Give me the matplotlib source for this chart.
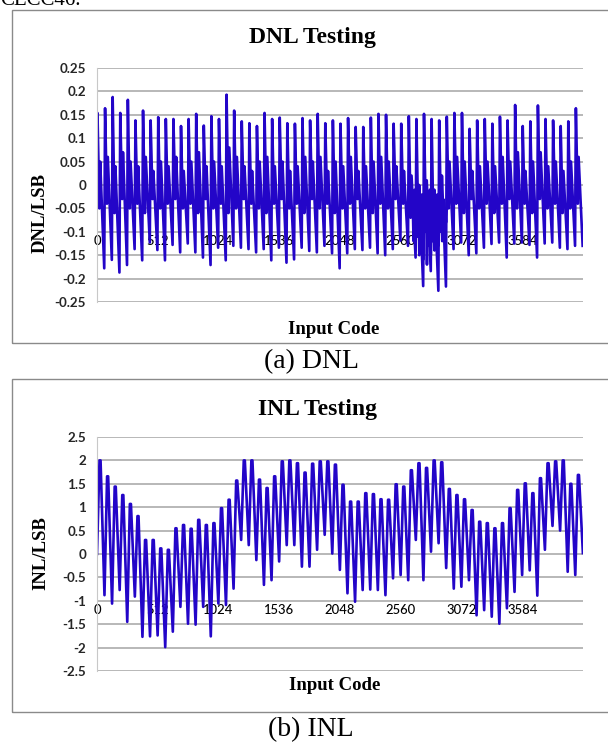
import numpy as np
import matplotlib
matplotlib.use('Agg')
import matplotlib.pyplot as plt
from matplotlib.patches import Rectangle

# DNL: per 64-code cycle, peak after the jump, two mid-ramp values, trough at cycle end
dnl_peak = [0.154, 0.164, 0.188, 0.154, 0.182, 0.138, 0.159, 0.138,
            0.145, 0.141, 0.141, 0.126, 0.141, 0.152, 0.127, 0.147,
            0.141, 0.193, 0.159, 0.136, 0.132, 0.126, 0.154, 0.141,
            0.144, 0.132, 0.131, 0.143, 0.138, 0.152, 0.132, 0.138,
            0.131, 0.143, 0.124, 0.124, 0.144, 0.152, 0.150, 0.131,
            0.131, 0.147, 0.141, 0.152, 0.141, 0.138, 0.146, 0.154,
            0.154, 0.120, 0.138, 0.141, 0.131, 0.146, 0.138, 0.171,
            0.126, 0.136, 0.170, 0.141, 0.138, 0.126, 0.136, 0.164]
dnl_mid_lo = [-0.05, -0.04, -0.06, -0.03, -0.05, -0.04, -0.06, -0.03,
              -0.05, -0.04, -0.03, -0.05, -0.04, -0.06, -0.03, -0.05,
              -0.04, -0.06, -0.05, -0.03, -0.04, -0.05, -0.06, -0.04,
              -0.03, -0.05, -0.04, -0.06, -0.03, -0.05, -0.04, -0.06,
              -0.05, -0.04, -0.03, -0.05, -0.06, -0.04, -0.05, -0.03,
              -0.04, -0.07, -0.09, -0.08, -0.10, -0.08, -0.05, -0.04,
              -0.06, -0.03, -0.05, -0.04, -0.06, -0.04, -0.03, -0.05,
              -0.04, -0.06, -0.03, -0.05, -0.04, -0.06, -0.05, -0.04]
dnl_mid_hi = [0.05, 0.06, 0.04, 0.07, 0.05, 0.04, 0.06, 0.03,
              0.05, 0.04, 0.06, 0.03, 0.05, 0.07, 0.04, 0.05,
              0.04, 0.08, 0.06, 0.04, 0.03, 0.05, 0.06, 0.04,
              0.05, 0.03, 0.04, 0.06, 0.05, 0.06, 0.03, 0.05,
              0.04, 0.06, 0.03, 0.04, 0.05, 0.06, 0.05, 0.04,
              0.03, 0.02, 0.00, 0.01, -0.01, 0.02, 0.05, 0.06,
              0.05, 0.03, 0.04, 0.05, 0.04, 0.06, 0.05, 0.07,
              0.03, 0.05, 0.07, 0.04, 0.05, 0.03, 0.05, 0.06]
dnl_trough = [-0.178, -0.160, -0.187, -0.171, -0.137, -0.161, -0.123, -0.139,
              -0.161, -0.128, -0.144, -0.125, -0.144, -0.155, -0.171, -0.134,
              -0.161, -0.130, -0.134, -0.137, -0.144, -0.137, -0.161, -0.134,
              -0.166, -0.159, -0.134, -0.141, -0.144, -0.130, -0.146, -0.178,
              -0.146, -0.137, -0.139, -0.134, -0.146, -0.150, -0.137, -0.119,
              -0.130, -0.155, -0.216, -0.184, -0.226, -0.217, -0.137, -0.123,
              -0.150, -0.146, -0.134, -0.126, -0.123, -0.155, -0.125, -0.123,
              -0.128, -0.155, -0.125, -0.123, -0.134, -0.137, -0.130, -0.130]
# noisy stretch around codes 2660-2950
dnl_burst = [-0.03, -0.12, -0.01, -0.14, -0.04, -0.11, 0.00, -0.15, -0.05, -0.12,
             -0.02, -0.16, -0.06, -0.10, -0.03, -0.17, -0.04, -0.13, -0.01, -0.15,
             -0.07, -0.12, -0.03, -0.14, -0.05, -0.11, -0.02, -0.13, -0.06, -0.10,
             -0.04, -0.12, -0.03, -0.09, -0.05, -0.08, -0.04]
burst_start, burst_end = 2660, 2950

# INL: per cycle, arch top and the sharp trough at the cycle end
inl_peak = [2.00, 1.66, 1.44, 1.26, 1.07, 0.81, 0.30, 0.30,
            0.12, 0.09, 0.55, 0.62, 0.54, 0.73, 0.62, 0.66,
            0.98, 1.16, 1.57, 2.00, 2.00, 1.59, 1.41, 1.66,
            1.98, 2.00, 1.94, 1.74, 1.93, 1.98, 1.98, 1.91,
            1.48, 1.12, 1.12, 1.30, 1.28, 1.17, 1.16, 1.49,
            1.44, 1.79, 1.94, 1.84, 2.00, 1.96, 1.39, 1.26,
            1.17, 0.94, 0.69, 0.66, 0.55, 0.66, 0.98, 1.37,
            1.51, 1.30, 1.62, 1.94, 1.98, 2.00, 1.50, 1.69]
inl_trough = [-0.88, -1.06, -0.77, -1.45, -0.91, -1.77, -1.76, -1.74,
              -1.99, -1.66, -1.13, -1.49, -1.51, -1.13, -1.76, -1.06,
              -1.09, -0.74, 0.30, 0.19, -0.13, -0.66, -0.56, -0.16,
              0.19, 0.19, -0.27, -0.27, 0.09, 0.41, 0.01, -0.34,
              -0.84, -1.02, -0.77, -0.76, -0.77, -0.88, -0.52, -0.45,
              -0.56, 0.30, -0.56, 0.05, 0.23, -0.30, -0.74, -0.70,
              -0.56, -1.31, -1.20, -1.34, -1.49, -1.16, -0.81, -0.45,
              -0.35, -0.89, 0.09, 0.60, 0.50, -0.38, -0.45, 0.02]

CYCLE = 64
x_ticks = [0, 512, 1024, 1536, 2048, 2560, 3072, 3584]
dnl_yticks = [0.25, 0.2, 0.15, 0.1, 0.05, 0, -0.05, -0.1, -0.15, -0.2, -0.25]
dnl_ylabels = ['0.25', '0.2', '0.15', '0.1', '0.05', '0', '-0.05', '-0.1', '-0.15', '-0.2', '-0.25']
inl_yticks = [2.5, 2, 1.5, 1, 0.5, 0, -0.5, -1, -1.5, -2, -2.5]
inl_ylabels = ['2.5', '2', '1.5', '1', '0.5', '0', '-0.5', '-1', '-1.5', '-2', '-2.5']

# build vertex lists
dnl_x, dnl_y = [0], [0.0]
for k in range(len(dnl_peak)):
    c0 = k * CYCLE
    dnl_x += [c0 + 4, c0 + 20, c0 + 27, c0 + 61]
    dnl_y += [dnl_peak[k], dnl_mid_lo[k], dnl_mid_hi[k], dnl_trough[k]]
burst_x = np.linspace(burst_start, burst_end, len(dnl_burst))

# arch tops held over a few codes so they read rounded, V at the cycle end
inl_x, inl_y = [0], [0.0]
for k in range(len(inl_peak)):
    c0 = k * CYCLE
    inl_x += [c0 + 21, c0 + 30, c0 + 63]
    inl_y += [inl_peak[k], inl_peak[k], inl_trough[k]]

LINE = '#2305c8'
GRID = '#ababab'
serif = 'Liberation Serif'
sans = 'Lato'

fig = plt.figure(figsize=(6.08, 7.42), dpi=100)
W, H = 608.0, 742.0


def fx(px):
    return px / W


def fy(py):
    return 1 - py / H


# panel frames (open on the right, like the cropped figure)
for top, bot in [(10.5, 343), (379, 712)]:
    fig.patches.append(Rectangle((fx(12), fy(bot)), 1.0, (bot - top) / H,
                                 transform=fig.transFigure, fill=False,
                                 edgecolor='#8a8a8a', lw=1.0))

fig.text(0.0, fy(5), 'CECC46.', family=serif, fontsize=15, ha='left', va='baseline')


def make_panel(top_px, xs, ys, ylim, yticks, ylabels, cross, title, ylabel,
               title_xy, ylab_xy, xlab_xy, caption, cap_xy):
    ax = fig.add_axes([fx(97), fy(top_px + 234), 486 / W, 234 / H])
    ax.plot(xs, ys, color=LINE, lw=1.9, solid_joinstyle='round')
    ax.set_xlim(0, 4096)
    ax.set_ylim(*ylim)
    ax.set_yticks(yticks)
    ax.set_yticklabels(ylabels)
    ax.set_xticks(x_ticks)
    ax.set_xticklabels([str(t) for t in x_ticks])
    ax.yaxis.grid(True, color=GRID, lw=1.2)
    ax.set_axisbelow(True)
    for s in ['top', 'right']:
        ax.spines[s].set_visible(False)
    ax.spines['left'].set_color('#c8c8c8')
    ax.spines['bottom'].set_position(('data', cross))
    ax.spines['bottom'].set_color('none')
    ax.tick_params(axis='y', length=0, pad=8, labelsize=9.6, labelcolor='#262626')
    ax.tick_params(axis='x', length=0, pad=2.5, labelsize=9.4, labelcolor='black')
    for lab in ax.get_yticklabels():
        lab.set_fontfamily(sans)
        lab.set_fontweight('bold')
    for lab in ax.get_xticklabels():
        lab.set_fontfamily(sans)
        lab.set_fontweight('medium')
    fig.text(fx(title_xy[0]), fy(title_xy[1]), title, family=serif, weight='bold',
             fontsize=17, ha='center', va='center')
    fig.text(fx(ylab_xy[0]), fy(ylab_xy[1]), ylabel, family=serif, weight='bold',
             fontsize=13.5, ha='center', va='center', rotation=90)
    fig.text(fx(xlab_xy[0]), fy(xlab_xy[1]), 'Input Code', family=serif, weight='bold',
             fontsize=13.5, ha='center', va='center')
    fig.text(fx(cap_xy[0]), fy(cap_xy[1]), caption, family=serif,
             fontsize=20, ha='center', va='center')
    return ax


ax1 = make_panel(68, dnl_x, dnl_y, (-0.25, 0.25), dnl_yticks, dnl_ylabels, -0.1,
                 'DNL Testing', 'DNL/LSB', (312, 37), (40, 213), (334, 330),
                 '(a) DNL', (311, 362))
ax1.plot(burst_x, dnl_burst, color=LINE, lw=1.9)

ax2 = make_panel(437, inl_x, inl_y, (-2.5, 2.5), inl_yticks, inl_ylabels, -1,
                 'INL Testing', 'INL/LSB', (318, 409), (41, 553), (335, 685),
                 '(b) INL', (311, 730))

plt.savefig('out.png', dpi=100)
